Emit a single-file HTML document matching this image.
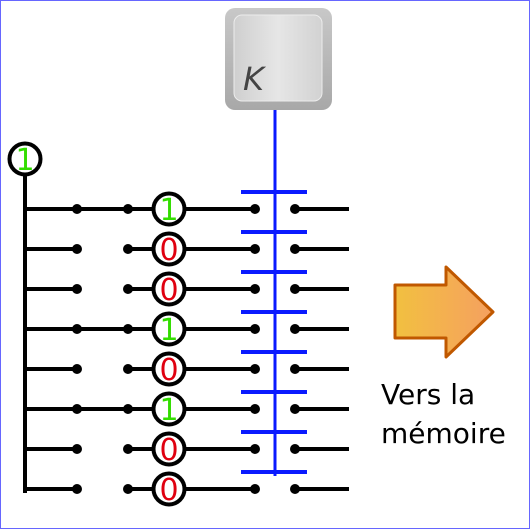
<!DOCTYPE html>
<html><head><meta charset="utf-8"><style>
html,body{margin:0;padding:0;background:#fff}
svg{display:block}
</style></head><body>
<svg id="s" width="530" height="529" viewBox="0 0 530 529" xmlns="http://www.w3.org/2000/svg">
<defs>
<linearGradient id="kg" x1="0" x2="1" y1="0" y2="0">
<stop offset="0" stop-color="#cfcfcf"/><stop offset="0.5" stop-color="#e6e6e6"/><stop offset="1" stop-color="#d2d2d2"/>
</linearGradient>
<linearGradient id="kb" x1="0" x2="0" y1="0" y2="1">
<stop offset="0" stop-color="#c8c8c8"/><stop offset="1" stop-color="#a8a8a8"/>
</linearGradient>
<linearGradient id="ag" x1="0" x2="1" y1="0" y2="0">
<stop offset="0" stop-color="#f2c040"/><stop offset="1" stop-color="#f5a060"/>
</linearGradient>
</defs>
<rect x="0.5" y="0.5" width="529" height="528" fill="#fff" stroke="#6666ff" stroke-width="1"/>
<g>
<rect x="225" y="8" width="107" height="102" rx="10" fill="url(#kb)"/>
<rect x="234" y="15" width="88" height="86" rx="8" fill="url(#kg)" stroke="#ececec" stroke-width="1"/>
<text x="243" y="90" font-family="DejaVu Sans, sans-serif" font-style="italic" font-size="32" fill="#444">K</text>
</g>
<line x1="275" y1="110" x2="275" y2="476" stroke="#0a1aff" stroke-width="3"/>
<g id="rows"></g>
<circle cx="25" cy="159" r="15.5" fill="#fff" stroke="#000" stroke-width="4"/>
<text x="25" y="170" text-anchor="middle" font-family="DejaVu Sans, sans-serif" font-size="30" fill="#33dd00">1</text>
<line x1="25" y1="175" x2="25" y2="493" stroke="#000" stroke-width="4"/>
<g>
<path d="M395,285 L446,285 L446,267 L493,312 L446,357 L446,338 L395,338 Z" fill="url(#ag)" stroke="#c05800" stroke-width="3" stroke-linejoin="round"/>
</g>
<text font-family="DejaVu Sans, sans-serif" font-size="28" fill="#000"><tspan x="381" y="404">Vers la</tspan><tspan x="381" y="443">mémoire</tspan></text>
</svg>
<script>
const bits = [1,0,0,1,0,1,0,0];
const NS = "http://www.w3.org/2000/svg";
const g = document.getElementById('rows');
function mk(t, a){const e=document.createElementNS(NS,t);for(const k in a)e.setAttribute(k,a[k]);g.appendChild(e);return e;}
bits.forEach((b,i)=>{
  const y = 209 + i*40;
  const bar = mk('line',{x1:241,x2:307,y1:y-17,y2:y-17,stroke:'#0a1aff','stroke-width':4});
  
  
  const l1 = mk('line',{x1:25,x2:77,y1:y,y2:y,stroke:'#000','stroke-width':4});
  
  
  if(b){const l=mk('line',{x1:77,x2:128,y1:y,y2:y,stroke:'#000','stroke-width':4});
    
    }
  const l2 = mk('line',{x1:128,x2:255,y1:y,y2:y,stroke:'#000','stroke-width':4});
  
  
  const l3 = mk('line',{x1:295,x2:349,y1:y,y2:y,stroke:'#000','stroke-width':4});
  
  
  [77,128,255,295].forEach(x=>{const d=mk('circle',{cx:x,cy:y,r:5,fill:'#000'});
    
    });
  const c = mk('circle',{cx:169,cy:y,r:15.5,fill:'#fff',stroke:'#000','stroke-width':4});
  
  
  const t = mk('text',{x:169,y:y+11,'text-anchor':'middle','font-family':'DejaVu Sans, sans-serif','font-size':30,fill:b?'#33dd00':'#e00010'});
  t.textContent = String(b);
  
  
});
</script>
</body></html>
